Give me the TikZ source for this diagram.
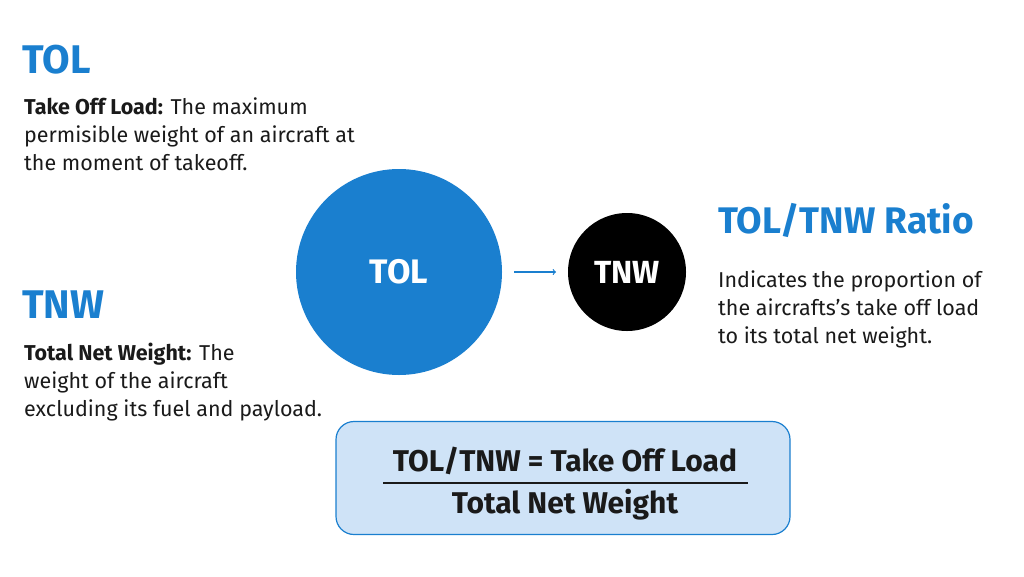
\documentclass[tikz,border=0pt]{standalone}
\usepackage{fontspec}
\setmainfont{Fira Sans}
\definecolor{mblue}{HTML}{1A7FCF}
\definecolor{boxfill}{HTML}{CFE3F7}
\definecolor{txt}{HTML}{1A1A1A}
\begin{document}
\begin{tikzpicture}[x=1pt,y=-1pt,
  head/.style={anchor=west,text=mblue,font=\fontsize{40}{44}\selectfont\bfseries,inner sep=0},
  body/.style={anchor=west,text=txt,font=\fontsize{21.5}{28}\selectfont,align=left,inner sep=0}]
\useasboundingbox (0,0) rectangle (1024,576);
\node[head] (h1) at (22,60) {TOL};
\node[body,anchor=north west] (t1) at (24,98) {\textbf{Take Off Load:} The maximum\\permisible weight of an aircraft at\\ the moment of takeoff.};
\node[head] (h2) at (22,305) {TNW};
\node[body,anchor=north west] (t2) at (24,343) {\textbf{Total Net Weight:} The\\weight of the aircraft\\excluding its fuel and payload.};
\node[circle,fill=mblue,minimum size=206,inner sep=0,text=white,font=\fontsize{34}{38}\selectfont\bfseries] (c1) at (399,272) {TOL};
\node[circle,fill=black,minimum size=118,inner sep=0,text=white,font=\fontsize{32}{36}\selectfont\bfseries] (c2) at (627,272) {TNW};
\coordinate (a1) at (514,272);
\coordinate (a2) at (556,272);
\draw[mblue,line width=1.2,-to] (a1) -- (a2);
\node[head,font=\fontsize{37}{40}\selectfont\bfseries] (h3) at (718,220) {TOL/TNW Ratio};
\node[body,anchor=north west] (t3) at (718,271) {Indicates the proportion of\\the aircrafts's take off load\\to its total net weight.};
\node[draw=mblue,line width=1.2,fill=boxfill,rounded corners=18,minimum width=454,minimum height=113] (bx) at (563,478) {};
\node[font=\fontsize{30}{34}\selectfont\bfseries,text=txt] (f1) at (565,461) {TOL/TNW = Take Off Load};
\draw[txt,line width=1.5] (383,483) -- (748,483);
\node[font=\fontsize{30}{34}\selectfont\bfseries,text=txt] (f2) at (565,505) {Total Net Weight};
\end{tikzpicture}
\end{document}
